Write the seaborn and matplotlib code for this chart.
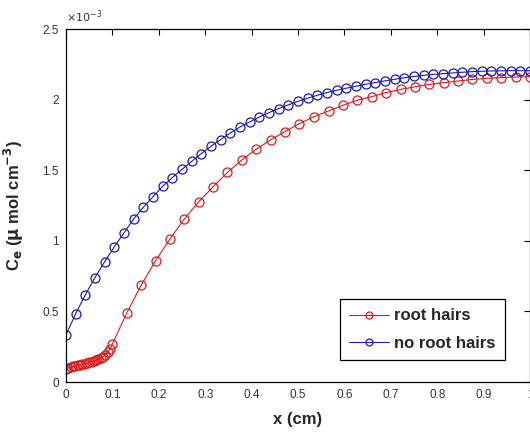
import matplotlib
matplotlib.use("Agg")
import matplotlib.pyplot as plt
import seaborn as sns
import pandas as pd

# concentration in units of 1e-3 umol/cm^3
x_no_hairs = [0.0, 0.0208, 0.0417, 0.0625, 0.0833, 0.1042, 0.125, 0.1458, 0.1667, 0.1875,
              0.2083, 0.2292, 0.25, 0.2708, 0.2917, 0.3125, 0.3333, 0.3542, 0.375, 0.3958,
              0.4167, 0.4375, 0.4583, 0.4792, 0.5, 0.5208, 0.5417, 0.5625, 0.5833, 0.6042,
              0.625, 0.6458, 0.6667, 0.6875, 0.7083, 0.7292, 0.75, 0.7708, 0.7917, 0.8125,
              0.8333, 0.8542, 0.875, 0.8958, 0.9167, 0.9375, 0.9583, 0.9792, 1.0]
c_no_hairs = [0.335, 0.483, 0.618, 0.740, 0.852, 0.958, 1.056, 1.155, 1.238, 1.312,
              1.386, 1.448, 1.506, 1.563, 1.618, 1.670, 1.717, 1.764, 1.806, 1.842,
              1.877, 1.908, 1.937, 1.963, 1.988, 2.010, 2.031, 2.050, 2.066, 2.081,
              2.095, 2.109, 2.121, 2.133, 2.144, 2.155, 2.164, 2.172, 2.179, 2.184,
              2.189, 2.194, 2.198, 2.201, 2.203, 2.204, 2.205, 2.205, 2.205]

x_hairs = [0.0, 0.005, 0.01, 0.015, 0.02, 0.025, 0.03, 0.035, 0.04, 0.045,
           0.05, 0.055, 0.06, 0.065, 0.07, 0.075, 0.08, 0.085, 0.09, 0.095,
           0.1, 0.131, 0.162, 0.193, 0.224, 0.255, 0.286, 0.317, 0.348, 0.379,
           0.41, 0.441, 0.472, 0.503, 0.534, 0.566, 0.597, 0.628, 0.659, 0.69,
           0.721, 0.752, 0.783, 0.814, 0.845, 0.876, 0.907, 0.938, 0.969, 1.0]
c_hairs = [0.093, 0.100, 0.105, 0.110, 0.114, 0.118, 0.122, 0.126, 0.130, 0.134,
           0.139, 0.144, 0.149, 0.155, 0.162, 0.170, 0.180, 0.193, 0.210, 0.235,
           0.270, 0.489, 0.685, 0.859, 1.013, 1.154, 1.276, 1.384, 1.484, 1.573,
           1.649, 1.715, 1.774, 1.830, 1.878, 1.920, 1.960, 1.996, 2.021, 2.050,
           2.072, 2.091, 2.108, 2.120, 2.132, 2.143, 2.151, 2.156, 2.160, 2.162]

red = "#dd1a1a"
blue = "#1a1ab0"

sns.set_style("white")
plt.rcParams['font.family'] = ['Liberation Sans', 'DejaVu Sans']

fig = plt.figure(figsize=(5.3, 4.32), dpi=100)
ax = fig.add_axes([0.1245, 0.1157, 0.8755, 0.8171])

sns.lineplot(x=x_hairs, y=c_hairs, sort=False, color=red, label="root hairs",
             marker="o", markersize=6.5, markerfacecolor="none", markeredgecolor=red,
             markeredgewidth=0.9, linewidth=0.8, ax=ax)
sns.lineplot(x=x_no_hairs, y=c_no_hairs, sort=False, color=blue, label="no root hairs",
             marker="o", markersize=6.5, markerfacecolor="none", markeredgecolor=blue,
             markeredgewidth=0.9, linewidth=0.8, ax=ax)

ax.set_xlim(0, 1)
ax.set_ylim(0, 2.5)
ax.set_xticks([0, 0.1, 0.2, 0.3, 0.4, 0.5, 0.6, 0.7, 0.8, 0.9, 1])
ax.set_xticklabels(["0", "0.1", "0.2", "0.3", "0.4", "0.5", "0.6", "0.7", "0.8", "0.9", "1"])
ax.set_yticks([0, 0.5, 1, 1.5, 2, 2.5])
ax.set_yticklabels(["0", "0.5", "1", "1.5", "2", "2.5"])
ax.tick_params(direction="in", length=4, width=0.8, top=True, right=True,
               labelsize=8.5, colors="black", labelcolor="#333333", pad=5)
for s in ax.spines.values():
    s.set_color("black")
    s.set_linewidth(0.9)

ax.text(0.0, 1.012, r"$\times10^{-3}$", transform=ax.transAxes,
        ha="left", va="bottom", fontsize=8, color="#333333")

ax.set_xlabel("x (cm)", fontsize=12, fontweight="bold", labelpad=8)
ax.set_ylabel(r"C$_\mathbf{e}$ ($\mathbf{\mu}$ mol cm$^\mathbf{-3}$)", fontsize=12,
              fontweight="bold", labelpad=12)

leg = ax.legend(loc="lower right", bbox_to_anchor=(0.946, 0.062), borderaxespad=0,
                prop={"size": 12, "weight": "bold"},
                frameon=True, fancybox=False, framealpha=1, edgecolor="black",
                handlelength=2.4, borderpad=0.55, labelspacing=0.75, handletextpad=0.3)
leg.get_frame().set_linewidth(0.9)
for h in leg.get_lines():
    h.set_markersize(5)

fig.savefig("out.png", dpi=100)
